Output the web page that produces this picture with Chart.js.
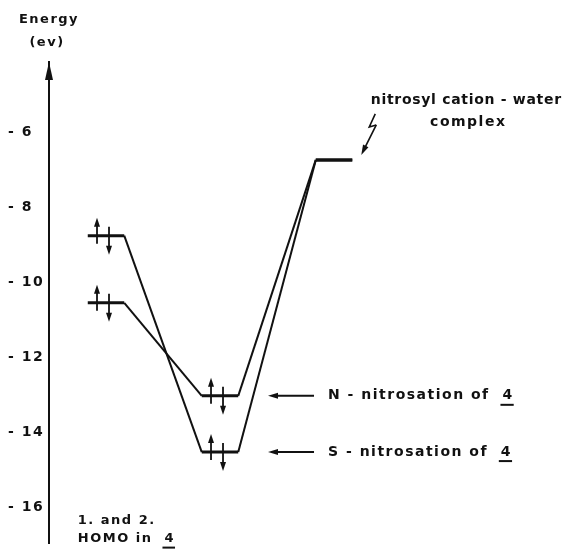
<!DOCTYPE html>
<html>
<head>
<meta charset="utf-8">
<script src="https://cdn.jsdelivr.net/npm/chart.js@4.4.1/dist/chart.umd.min.js"></script>
<style>
  html, body { margin: 0; padding: 0; background: #fff; }
  #wrap { width: 578px; height: 555px; }
</style>
</head>
<body>
<div id="wrap"><canvas id="diagrama"></canvas></div>
<script>
// --- dados ---
const levelNames = ['HOMO 1', 'HOMO 2', 'N-nitrosation', 'S-nitrosation', 'complex'];
const levelEnergy = [-8.76, -10.55, -13.03, -14.53, -6.74];   // eV
const levelColumn = [1, 1, 2, 2, 3];
const levelElectrons = [true, true, true, true, false];
const levelPointer = ['', '', 'N - nitrosation of', 'S - nitrosation of', ''];
const paths = [[0, 3, 4], [1, 2, 4]];   // HOMO 1 -> S -> complex, HOMO 2 -> N -> complex

const tickValues = [-6, -8, -10, -12, -14, -16];
const tickLabels = ['- 6', '- 8', '- 10', '- 12', '- 14', '- 16'];

const axisTitle = ['Energy', '(ev)'];
const complexLabel = ['nitrosyl cation - water', 'complex'];
const homoLabel = ['1. and 2.', 'HOMO in'];
const compound = '4';

const INK = '#111';
const HALF = 0.16;  // meia largura de cada nível
const FONT = 'bold 13px "DejaVu Sans"';
const FONT_BIG = 'bold 14px "DejaVu Sans"';

function buildPath(p) {
    const pts = [];
    p.forEach(i => {
        pts.push({ x: levelColumn[i] - HALF, y: levelEnergy[i] });
        pts.push({ x: levelColumn[i] + HALF, y: levelEnergy[i] });
    });
    return pts;
}

function arrow(ctx, x1, y1, x2, y2, head, w) {
    const a = Math.atan2(y2 - y1, x2 - x1);
    const c = Math.cos(a), s = Math.sin(a);
    ctx.beginPath();
    ctx.moveTo(x1, y1);
    ctx.lineTo(x2 - c * head * 0.7, y2 - s * head * 0.7);
    ctx.stroke();
    ctx.beginPath();
    ctx.moveTo(x2, y2);
    ctx.lineTo(x2 - head * c + w * s, y2 - head * s - w * c);
    ctx.lineTo(x2 - head * c - w * s, y2 - head * s + w * c);
    ctx.closePath();
    ctx.fill();
}

// texto com o "4" sublinhado no fim
function textUnderlined(ctx, txt, x, y) {
    ctx.textAlign = 'left';
    ctx.fillText(txt, x, y);
    const w = ctx.measureText(txt + '  ').width;
    ctx.fillText(compound, x + w, y);
    const w4 = ctx.measureText(compound).width;
    ctx.fillRect(x + w - 2, y + 8, w4 + 2, 2);
}

const diagramPlugin = {
    id: 'diagramPlugin',
    beforeDraw(chart) {
        chart.ctx.letterSpacing = '1.5px';
    },
    afterDatasetsDraw(chart) {
        const { ctx, chartArea, scales: { x, y } } = chart;
        ctx.save();
        ctx.fillStyle = INK;
        ctx.strokeStyle = INK;
        ctx.font = FONT;
        ctx.letterSpacing = '1.5px';
        ctx.textBaseline = 'middle';

        // seta do eixo
        const ax = chartArea.left;
        ctx.beginPath();
        ctx.moveTo(ax, chartArea.top);
        ctx.lineTo(ax - 4, chartArea.top + 18);
        ctx.lineTo(ax + 4, chartArea.top + 18);
        ctx.closePath();
        ctx.fill();

        // titulo do eixo
        ctx.textAlign = 'center';
        ctx.fillText(axisTitle[0], ax, chartArea.top - 42);
        ctx.fillText(axisTitle[1], ax - 2, chartArea.top - 19);

        ctx.lineWidth = 1.8;
        levelEnergy.forEach((e, i) => {
            const cx = x.getPixelForValue(levelColumn[i]);
            const py = y.getPixelForValue(e);
            if (levelElectrons[i]) {
                arrow(ctx, cx - 9, py + 8, cx - 9, py - 18, 9, 3);
                arrow(ctx, cx + 3, py - 9, cx + 3, py + 19, 9, 3);
            }
            if (levelPointer[i]) {
                ctx.lineWidth = 2;
                arrow(ctx, cx + 94, py, cx + 48, py, 10, 3);
                ctx.font = FONT_BIG;
                textUnderlined(ctx, levelPointer[i], cx + 108, py);
                ctx.font = FONT;
                ctx.lineWidth = 1.8;
            }
        });

        // complexo: raio + texto
        const ci = 4;
        const rx = x.getPixelForValue(levelColumn[ci] + HALF);
        const ry = y.getPixelForValue(levelEnergy[ci]);
        ctx.lineWidth = 1.6;
        ctx.beginPath();
        ctx.moveTo(rx + 23, ry - 46);
        ctx.lineTo(rx + 17, ry - 33);
        ctx.lineTo(rx + 24, ry - 35);
        ctx.stroke();
        arrow(ctx, rx + 24, ry - 35, rx + 9, ry - 5, 10, 3);
        ctx.textAlign = 'center';
        ctx.font = FONT_BIG;
        ctx.letterSpacing = '0.7px';
        ctx.fillText(complexLabel[0], rx + 114, ry - 60);
        ctx.letterSpacing = '1.5px';
        ctx.fillText(complexLabel[1], rx + 116, ry - 38);
        ctx.font = FONT;

        // legenda HOMO
        const hx = x.getPixelForValue(levelColumn[0] - HALF) - 10;
        ctx.textAlign = 'left';
        ctx.fillText(homoLabel[0], hx, chartArea.bottom - 23);
        textUnderlined(ctx, homoLabel[1], hx, chartArea.bottom - 5);

        ctx.restore();
    }
};

new Chart(document.getElementById('diagrama'), {
    type: 'line',
    data: {
        datasets: paths.map((p, k) => ({
            label: 'caminho ' + (k + 1),
            data: buildPath(p),
            borderColor: INK,
            borderWidth: 2,
            pointRadius: 0,
            tension: 0,
            fill: false,
            segment: {
                borderWidth: c => c.p0.parsed.y === c.p1.parsed.y ? 3 : 2
            }
        }))
    },
    options: {
        responsive: true,
        maintainAspectRatio: false,
        animation: false,
        layout: { padding: { top: 62, bottom: 5, left: 8, right: 0 } },
        plugins: {
            legend: { display: false },
            tooltip: { enabled: false }
        },
        scales: {
            x: { type: 'linear', min: 0.5, max: 5.14, display: false },
            y: {
                type: 'linear',
                min: -16.97,
                max: -4.13,
                afterFit: s => { s.width = 41; },
                afterBuildTicks: s => { s.ticks = tickValues.map(v => ({ value: v })); },
                grid: { display: false },
                border: { display: true, color: INK, width: 2 },
                ticks: {
                    crossAlign: 'far',
                    color: INK,
                    font: { family: 'DejaVu Sans', size: 14, weight: 'bold' },
                    callback: v => tickLabels[tickValues.indexOf(v)]
                }
            }
        }
    },
    plugins: [diagramPlugin]
});
</script>
</body>
</html>
